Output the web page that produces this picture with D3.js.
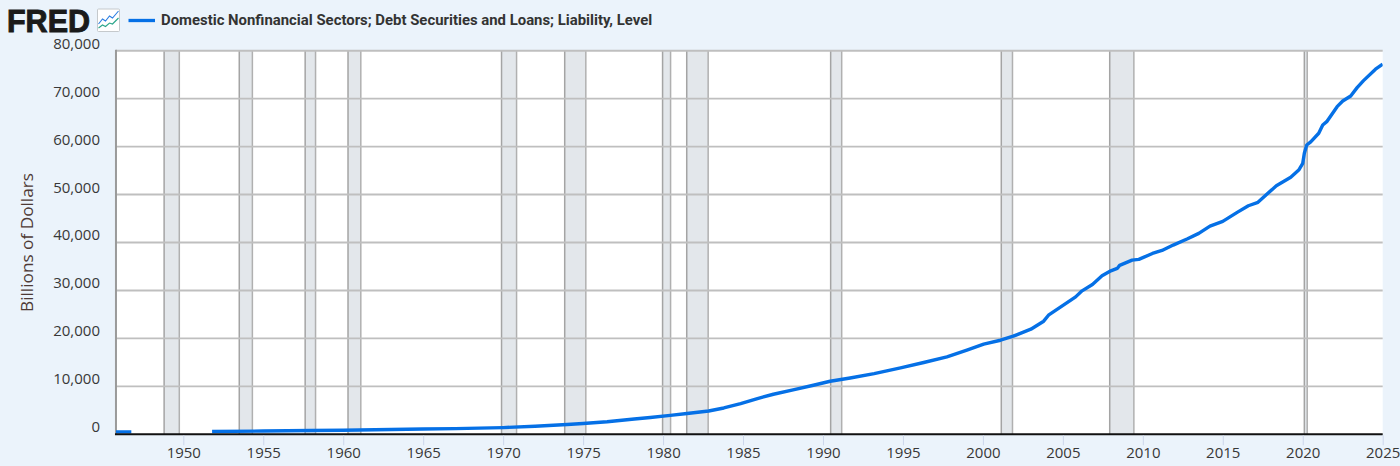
<!DOCTYPE html>
<html>
<head>
<meta charset="utf-8">
<script src="https://cdn.jsdelivr.net/npm/d3@7/dist/d3.min.js"></script>
<style>
html,body{margin:0;padding:0;background:#ebf3fb;}
svg{display:block;}
</style>
</head>
<body>
<svg id="chart" width="1400" height="466"></svg>
<script>
const seriesName = "Domestic Nonfinancial Sectors; Debt Securities and Loans; Liability, Level";
const yTitle = "Billions of Dollars";
const yTicks = [0,10000,20000,30000,40000,50000,60000,70000,80000];
const xTicks = [1950,1955,1960,1965,1970,1975,1980,1985,1990,1995,2000,2005,2010,2015,2020,2025];
const xStart = 1945.79, xEnd = 2025;

const recessionStart = [1948.8,1953.5,1957.62,1960.3,1969.9,1973.85,1979.97,1981.48,1990.48,2001.15,2007.93,2020.1];
const recessionEnd   = [1949.75,1954.32,1958.27,1961.1,1970.84,1975.17,1980.47,1982.82,1991.17,2001.85,2009.44,2020.28];

const years = [1945.79,1946.75,1946.76,1951.8,1955,1958,1960,1963,1965,1967,1970,1972,1974,1975,1976.5,1978.2,1979.2,1980.45,1981.5,1982.85,1983.8,1984.85,1985.9,1986.9,1988.2,1989.4,1990.45,1991.7,1993.2,1994.85,1996.3,1997.75,1999,2000.05,2001.1,2001.9,2003,2003.8,2004.1,2005.8,2006.2,2006.85,2007.45,2008,2008.4,2008.55,2009.33,2009.75,2010.6,2011.2,2011.9,2012.8,2013.5,2014.2,2015,2015.9,2016.6,2017.2,2017.77,2018.35,2019.25,2019.75,2020.0,2020.1,2020.25,2020.5,2021.0,2021.25,2021.5,2022.15,2022.5,2023,2023.4,2023.8,2024.55,2025];
const debt  = [500,510,null,570,680,780,860,1000,1090,1190,1400,1680,2050,2260,2620,3180,3500,3950,4350,4860,5490,6410,7450,8350,9330,10230,11060,11750,12670,13840,14970,16140,17540,18790,19620,20460,21920,23590,24840,28660,29920,31250,33050,34090,34590,35220,36330,36470,37720,38350,39460,40770,41900,43420,44400,46280,47660,48370,50100,51840,53590,55110,56500,58600,60330,61000,62780,64500,65200,68330,69500,70560,72300,73760,76140,77180];

const svg = d3.select("#chart");
const x = d3.scaleLinear().domain([1950,2025]).range([183.3,1382.7]);
const y = d3.scaleLinear().domain([0,80000]).range([434.3,50.7]);
const px0 = x(xStart), px1 = x(xEnd);

// plot background
svg.append("rect").attr("x",px0).attr("y",y(80000)).attr("width",px1-px0).attr("height",y(0)-y(80000)).attr("fill","#ffffff");

// recession bands
const bands = svg.append("g");
recessionStart.forEach((s,i)=>{
  const a=x(s), b=x(recessionEnd[i]);
  bands.append("rect").attr("x",a).attr("y",y(80000)).attr("width",b-a).attr("height",y(0)-y(80000)).attr("fill","#e3e7eb");
  bands.append("line").attr("x1",a).attr("x2",a).attr("y1",y(80000)).attr("y2",y(0)).attr("stroke","#a4a4a4").attr("stroke-width",1.5);
  bands.append("line").attr("x1",b).attr("x2",b).attr("y1",y(80000)).attr("y2",y(0)).attr("stroke","#b0b0b0").attr("stroke-width",1.5);
});

// horizontal gridlines
svg.append("g").selectAll("line").data(yTicks.filter(d=>d>0)).join("line")
  .attr("x1",px0).attr("x2",px1)
  .attr("y1",d=>y(d)).attr("y2",d=>y(d))
  .attr("stroke","#bfbfbf").attr("stroke-width",1.9);

// left axis edge
svg.append("line").attr("x1",px0).attr("x2",px0).attr("y1",y(80000)-1).attr("y2",y(0))
  .attr("stroke","#9a9a9a").attr("stroke-width",2);

// series line
svg.append("clipPath").attr("id","plotclip").append("rect")
  .attr("x",px0).attr("y",y(80000)).attr("width",px1-px0).attr("height",y(0)-y(80000));
const rows = years.map((yr,i)=>({yr,v:debt[i]}));
const line = d3.line().defined(d=>d.v!==null).x(d=>x(d.yr)).y(d=>y(d.v));
svg.append("path").datum(rows).attr("d",line).attr("fill","none")
  .attr("stroke","#0570e6").attr("stroke-width",3.4).attr("stroke-linejoin","round")
  .attr("clip-path","url(#plotclip)");

// bottom axis line
svg.append("line").attr("x1",px0-1).attr("x2",px1).attr("y1",y(0)).attr("y2",y(0))
  .attr("stroke","#111111").attr("stroke-width",2);

// x axis
const xAxis = d3.axisBottom(x).tickValues(xTicks).tickFormat(d3.format("d")).tickSize(10).tickPadding(2);
const gx = svg.append("g").attr("transform",`translate(0,${y(0)+1})`).call(xAxis);
gx.select(".domain").remove();
gx.selectAll(".tick line").attr("stroke","#ccd6eb").attr("stroke-width",1);
gx.selectAll(".tick text").attr("font-family","'Open Sans',sans-serif").attr("font-size",15).attr("fill","#383838");

// y axis
const yAxis = d3.axisLeft(y).tickValues(yTicks).tickFormat(d3.format(",")).tickSize(0).tickPadding(16);
const gy = svg.append("g").attr("transform",`translate(${px0},0)`).call(yAxis);
gy.select(".domain").remove();
gy.selectAll(".tick text").attr("font-family","'Open Sans',sans-serif").attr("font-size",15).attr("fill","#383838").attr("dy","-0.17em");

// y title
svg.append("text").attr("transform","translate(26,242.5) rotate(-90)").attr("text-anchor","middle")
  .attr("dominant-baseline","central")
  .attr("font-family","'Open Sans',sans-serif").attr("font-size",17.2).attr("fill","#4e3a36").text(yTitle);

// legend
svg.append("line").attr("x1",128.5).attr("x2",155).attr("y1",20.5).attr("y2",20.5).attr("stroke","#0570e6").attr("stroke-width",3.3);
svg.append("text").attr("x",161).attr("y",25).attr("font-family","Roboto,sans-serif").attr("font-weight",700)
  .attr("font-size",14.9).attr("fill","#333333").text(seriesName);

// FRED logo
svg.append("text").attr("x",7).attr("y",32).attr("font-family","'Liberation Sans',sans-serif").attr("font-weight",700)
  .attr("font-size",32).attr("stroke","#1a1a1a").attr("stroke-width",1).attr("textLength",83).attr("lengthAdjust","spacingAndGlyphs")
  .attr("fill","#1a1a1a").text("FRED");
// logo icon
const icon = svg.append("g").attr("transform","translate(97.5,9)");
icon.append("rect").attr("width",22).attr("height",22.5).attr("rx",1).attr("fill","#ffffff").attr("stroke","#c5c9cc").attr("stroke-width",1);
icon.append("path").attr("d","M1 15 L5 10 L8 12 L12 7 L15 9 L21 2").attr("fill","none").attr("stroke","#2a7de1").attr("stroke-width",1.1);
icon.append("path").attr("d","M1 19 L5 16 L8 17.5 L12 14 L15 15 L21 9").attr("fill","none").attr("stroke","#2aa58a").attr("stroke-width",1.1);
</script>
</body>
</html>
